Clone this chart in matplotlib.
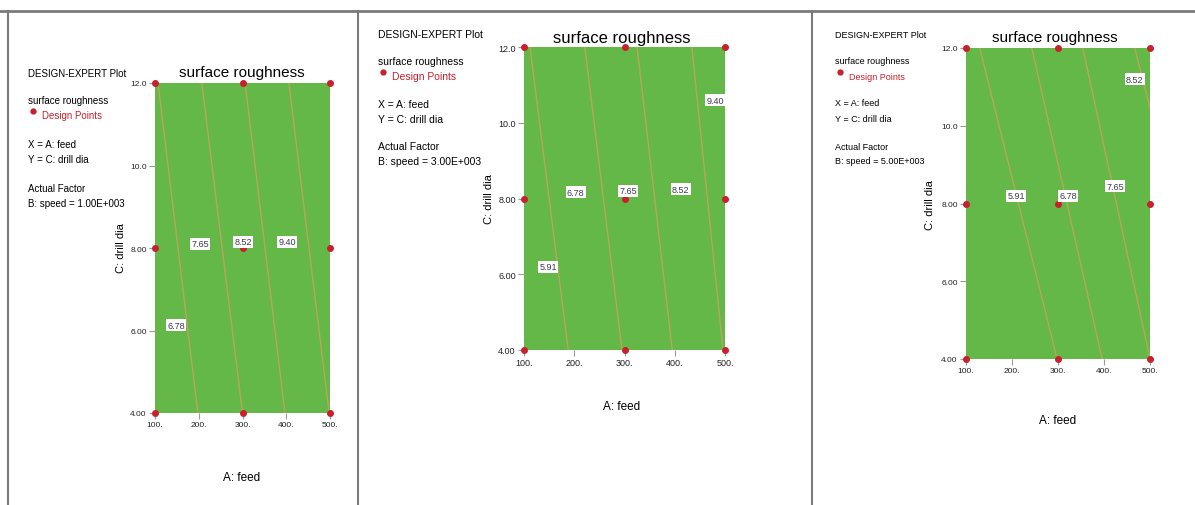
import matplotlib
matplotlib.use("Agg")
import matplotlib.pyplot as plt
from matplotlib.lines import Line2D

W, H = 1195, 506

# ejes: feed (A) y drill dia (C)
feed_ticks = [100, 200, 300, 400, 500]
feed_labels = ["100.", "200.", "300.", "400.", "500."]
dia_ticks = [4, 6, 8, 10, 12]
dia_labels = ["4.00", "6.00", "8.00", "10.0", "12.0"]

# puntos de diseño (iguales en los tres paneles)
design_feed = [100, 300, 500, 100, 300, 500, 100, 300, 500]
design_dia = [12, 12, 12, 8, 8, 8, 4, 4, 4]

speeds = ["1.00E+003", "3.00E+003", "5.00E+003"]

# contornos: feed donde cada línea corta dia=12 (arriba) y dia=4 (abajo)
top_feed_1 = [107, 207, 306, 406]
bottom_feed_1 = [198, 300, 397, 498]
top_feed_2 = [112, 221, 325, 434]
bottom_feed_2 = [188, 295, 395, 496]
top_feed_3 = [130, 243, 354, 467]
bottom_feed_3 = [298, 396, 500, 637]

# etiquetas de contorno: texto, feed, dia
labels_1 = [("6.78", 148, 6.13), ("7.65", 203, 8.10), ("8.52", 301, 8.15), ("9.40", 402, 8.15)]
labels_2 = [("5.91", 148, 6.2), ("6.78", 203, 8.17), ("7.65", 307, 8.2), ("8.52", 412, 8.25), ("9.40", 480, 10.6)]
labels_3 = [("5.91", 209, 8.2), ("6.78", 322, 8.2), ("7.65", 424, 8.45), ("8.52", 467, 11.2)]

GREEN = "#63b847"
RED = "#c8202c"
LINE = "#c9a25e"
FONT = ["Liberation Sans", "DejaVu Sans"]


def px(x, y):
    return x / W, 1 - y / H


fig = plt.figure(figsize=(W / 100, H / 100), dpi=100)
fig.patch.set_facecolor("white")

# bordes de la tabla
fig.add_artist(Line2D([0, 1], [1 - 12 / H] * 2, color="#7a7a7a", lw=2))
for xv in [8, 358, 812]:
    fig.add_artist(Line2D([xv / W] * 2, [0, 1 - 12 / H], color="#7a7a7a", lw=1.5))

panels = [
    dict(box=(155, 84, 330, 414), top=top_feed_1, bot=bottom_feed_1, labels=labels_1,
         tx=28, ty=[74, 101, 116, 145, 160, 189, 204], title=(242, 73), tsize=11,
         xl=(242, 478), yl=(121, 248), fs=7, tick=6),
    dict(box=(524, 48, 725, 351), top=top_feed_2, bot=bottom_feed_2, labels=labels_2,
         tx=378, ty=[35, 62, 77, 105, 120, 147, 162], title=(622, 38), tsize=12,
         xl=(622, 407), yl=(489, 199), fs=7.5, tick=6.5),
    dict(box=(966, 49, 1150, 360), top=top_feed_3, bot=bottom_feed_3, labels=labels_3,
         tx=835, ty=[35, 62, 77, 104, 119, 147, 162], title=(1055, 38), tsize=11,
         xl=(1058, 421), yl=(930, 205), fs=6.5, tick=6),
]

for p, speed in zip(panels, speeds):
    x0, y0, x1, y1 = p["box"]
    ax = fig.add_axes([x0 / W, 1 - y1 / H, (x1 - x0) / W, (y1 - y0) / H])
    ax.set_facecolor(GREEN)
    ax.set_xlim(100, 500)
    ax.set_ylim(4, 12)
    for s in ax.spines.values():
        s.set_visible(False)
    ax.set_xticks(feed_ticks)
    ax.set_xticklabels(feed_labels)
    ax.set_yticks(dia_ticks)
    ax.set_yticklabels(dia_labels)
    ax.tick_params(length=4, width=0.8, color="#9a9a9a", labelsize=p["tick"], pad=2,
                   labelcolor="#222222")
    for t in ax.get_xticklabels() + ax.get_yticklabels():
        t.set_family(FONT)

    for tf, bf in zip(p["top"], p["bot"]):
        ax.plot([tf, bf], [12, 4], color=LINE, lw=1.0, alpha=0.85)

    ax.plot(design_feed, design_dia, "o", color=RED, ms=4, clip_on=False, zorder=5)

    for txt, fx, dy in p["labels"]:
        ax.text(fx, dy, txt, fontsize=6.5, color="#3a3a4a", ha="center", va="center",
                family=FONT, zorder=6,
                bbox=dict(boxstyle="square,pad=0.15", fc="white", ec="none"))

    # textos del lado izquierdo
    fs = p["fs"]
    tx, ty = p["tx"], p["ty"]
    fig.text(*px(tx, ty[0]), "DESIGN-EXPERT Plot", fontsize=fs, family=FONT, va="center")
    fig.text(*px(tx, ty[1]), "surface roughness", fontsize=fs, family=FONT, va="center")
    fig.add_artist(Line2D([(tx + 5) / W], [1 - (ty[2] - 4) / H], marker="o", color=RED, ms=3.5))
    fig.text(*px(tx + 14, ty[2]), "Design Points", fontsize=fs, family=FONT, va="center", color=RED)
    fig.text(*px(tx, ty[3]), "X = A: feed", fontsize=fs, family=FONT, va="center")
    fig.text(*px(tx, ty[4]), "Y = C: drill dia", fontsize=fs, family=FONT, va="center")
    fig.text(*px(tx, ty[5]), "Actual Factor", fontsize=fs, family=FONT, va="center")
    fig.text(*px(tx, ty[6]), "B: speed = " + speed, fontsize=fs, family=FONT, va="center")

    fig.text(*px(*p["title"]), "surface roughness", fontsize=p["tsize"], family=FONT,
             ha="center", va="center")
    fig.text(*px(*p["xl"]), "A: feed", fontsize=8.5, family=FONT, ha="center", va="center")
    fig.text(*px(*p["yl"]), "C: drill dia", fontsize=8, family=FONT, ha="center", va="center",
             rotation=90)

fig.savefig("out.png", dpi=100)
